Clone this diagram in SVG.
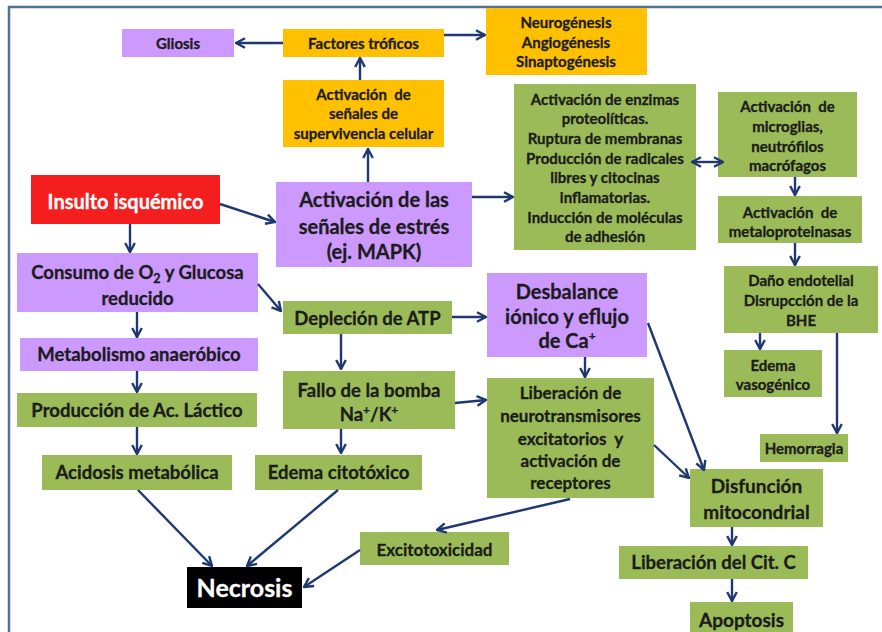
<svg xmlns="http://www.w3.org/2000/svg" width="882" height="632" viewBox="0 0 882 632">
<style>
.p{fill:#CC99FF}.o{fill:#FFC000}.g{fill:#9BBB59}.r{fill:#F41E1E}.k{fill:#000}
text{font-family:Lato,"Open Sans",sans-serif;font-weight:bold;fill:#1c1c1c;stroke:#1c1c1c;stroke-width:0.3;text-anchor:middle}
text.w{fill:#fff;stroke:#fff}
.s15{font-size:15px}.s17{font-size:17px}.s18{font-size:18.5px}.s19{font-size:19px}.s20{font-size:20px}
#connectors line{stroke:#1F3872;stroke-width:2.4;marker-end:url(#ah)}
</style>
<defs>
<marker id="ah" viewBox="0 0 10 10" refX="9" refY="5" markerWidth="12" markerHeight="12" markerUnits="userSpaceOnUse" orient="auto-start-reverse">
<path d="M1.5,1 L9,5 L1.5,9" fill="none" stroke="#1F3872" stroke-width="2"/>
</marker>
</defs>
<rect width="882" height="632" fill="#fff"/>
<path d="M9,632 V7 H882" fill="none" stroke="#52708F" stroke-width="2.5"/>

<g id="gliosis"><rect class="p" x="122" y="29" width="112" height="28"/><text class="s15" x="178" y="48.5">Gliosis</text></g>
<g id="factores"><rect class="o" x="283" y="29" width="161" height="28"/><text class="s15" x="363.5" y="48.5">Factores tróficos</text></g>
<g id="neurogenesis"><rect class="o" x="486" y="8" width="161" height="67"/><text class="s15"><tspan x="566" y="27.5">Neurogénesis</tspan><tspan x="566" y="47.5">Angiogénesis</tspan><tspan x="566" y="66.5">Sinaptogénesis</tspan></text></g>
<g id="supervivencia"><rect class="o" x="283" y="80" width="161" height="67"/><text class="s15" xml:space="preserve"><tspan x="363.5" y="99.5">Activación  de</tspan><tspan x="363.5" y="118.5">señales de</tspan><tspan x="363.5" y="138.5">supervivencia celular</tspan></text></g>
<g id="enzimas"><rect class="g" x="514" y="84" width="182" height="166"/><text class="s15"><tspan x="605" y="104.5">Activación de enzimas</tspan><tspan x="605" y="124">proteolíticas.</tspan><tspan x="605" y="143.5">Ruptura de membranas</tspan><tspan x="605" y="163.5">Producción de radicales</tspan><tspan x="605" y="182.5">libres y citocinas</tspan><tspan x="605" y="202.5">inflamatorias.</tspan><tspan x="605" y="222.5">Inducción de moléculas</tspan><tspan x="605" y="241.5">de adhesión</tspan></text></g>
<g id="microglias"><rect class="g" x="718" y="92" width="139" height="85"/><text class="s15" xml:space="preserve"><tspan x="787.5" y="111.5">Activación  de</tspan><tspan x="787.5" y="131.5">microglias,</tspan><tspan x="787.5" y="151.5">neutrófilos</tspan><tspan x="787.5" y="170.5">macrófagos</tspan></text></g>
<g id="metaloproteinasas"><rect class="g" x="718" y="196" width="144" height="47"/><text class="s15" xml:space="preserve"><tspan x="790" y="217.5">Activación  de</tspan><tspan x="790" y="236.5">metaloproteinasas</tspan></text></g>
<g id="dano"><rect class="g" x="724" y="266" width="154" height="67"/><text class="s15"><tspan x="801" y="285.5">Daño endotelial</tspan><tspan x="801" y="305.5">Disrupcción de la</tspan><tspan x="801" y="325.5">BHE</tspan></text></g>
<g id="edemavaso"><rect class="g" x="724" y="350" width="98" height="47"/><text class="s15"><tspan x="773" y="370.5">Edema</tspan><tspan x="773" y="389.5">vasogénico</tspan></text></g>
<g id="hemorragia"><rect class="g" x="760" y="434" width="88" height="28"/><text class="s15" x="804" y="453.5">Hemorragia</text></g>
<g id="insulto"><rect class="r" x="31" y="175" width="189" height="49"/><text class="s20 w" x="125.5" y="209">Insulto isquémico</text></g>
<g id="estres"><rect class="p" x="276" y="182" width="196" height="85"/><text class="s20"><tspan x="374" y="207">Activación de las</tspan><tspan x="374" y="234">señales de estrés</tspan><tspan x="374" y="259">(ej. MAPK)</tspan></text></g>
<g id="consumo"><rect class="p" x="17" y="253" width="241" height="59"/><text class="s18"><tspan x="137.5" y="278.5">Consumo de O<tspan font-size="12.5" dy="4">2</tspan><tspan dy="-4"> y Glucosa</tspan></tspan><tspan x="137.5" y="304.5">reducido</tspan></text></g>
<g id="depletion"><rect class="g" x="283" y="301" width="169" height="33"/><text class="s18" x="367.5" y="324.5">Depleción de ATP</text></g>
<g id="desbalance"><rect class="p" x="487" y="273" width="160" height="84"/><text class="s20"><tspan x="567" y="299">Desbalance</tspan><tspan x="567" y="324">iónico y eflujo</tspan><tspan x="567" y="348">de Ca<tspan font-size="12" dy="-8">+</tspan></tspan></text></g>
<g id="metabolismo"><rect class="p" x="20" y="338" width="238" height="33"/><text class="s18" x="139" y="361">Metabolismo anaeróbico</text></g>
<g id="lactico"><rect class="g" x="17" y="393" width="240" height="34"/><text class="s18" x="137" y="416.5">Producción de Ac. Láctico</text></g>
<g id="acidosis"><rect class="g" x="42" y="455" width="190" height="35"/><text class="s18" x="137" y="479">Acidosis metabólica</text></g>
<g id="fallo"><rect class="g" x="283" y="371" width="172" height="58"/><text class="s18"><tspan x="369" y="396.5">Fallo de la bomba</tspan><tspan x="369" y="420.5">Na<tspan font-size="12" dy="-7">+</tspan><tspan dy="7">/K</tspan><tspan font-size="12" dy="-7">+</tspan></tspan></text></g>
<g id="edemacito"><rect class="g" x="255" y="455" width="167" height="35"/><text class="s18" x="338.5" y="479">Edema citotóxico</text></g>
<g id="liberacion"><rect class="g" x="487" y="378" width="167" height="120"/><text class="s17" xml:space="preserve"><tspan x="570.5" y="399">Liberación de</tspan><tspan x="570.5" y="422">neurotransmisores</tspan><tspan x="570.5" y="445">excitatorios  y</tspan><tspan x="570.5" y="467">activación de</tspan><tspan x="570.5" y="489">receptores</tspan></text></g>
<g id="disfuncion"><rect class="g" x="690" y="469" width="133" height="58"/><text class="s19"><tspan x="756.5" y="493">Disfunción</tspan><tspan x="756.5" y="519">mitocondrial</tspan></text></g>
<g id="citc"><rect class="g" x="619" y="546" width="189" height="33"/><text class="s18" x="713.5" y="569">Liberación del Cit. C</text></g>
<g id="apoptosis"><rect class="g" x="690" y="602" width="103" height="32"/><text class="s19" x="741.5" y="627">Apoptosis</text></g>
<g id="excito"><rect class="g" x="360" y="532" width="149" height="33"/><text class="s17" x="434.5" y="556">Excitotoxicidad</text></g>
<g id="necrosis"><rect class="k" x="187" y="567" width="115" height="41"/><text class="w" font-size="25" x="244.5" y="597">Necrosis</text></g>

<g id="connectors">
<line x1="283" y1="43" x2="236" y2="43"/>
<line x1="444" y1="35" x2="485" y2="35"/>
<line x1="360" y1="80" x2="360" y2="58"/>
<line x1="368" y1="182" x2="368" y2="149"/>
<line x1="472" y1="197" x2="513" y2="197"/>
<line x1="692" y1="162" x2="723" y2="162" marker-start="url(#ah)"/>
<line x1="795" y1="177" x2="795" y2="195"/>
<line x1="795" y1="243" x2="795" y2="265"/>
<line x1="760" y1="333" x2="760" y2="349"/>
<line x1="837" y1="333" x2="837" y2="433"/>
<line x1="220" y1="204" x2="275" y2="222"/>
<line x1="130" y1="224" x2="130" y2="252"/>
<line x1="258" y1="284" x2="281" y2="311"/>
<line x1="137" y1="312" x2="137" y2="337"/>
<line x1="137" y1="371" x2="137" y2="392"/>
<line x1="137" y1="427" x2="137" y2="454"/>
<line x1="452" y1="317" x2="486" y2="317"/>
<line x1="341" y1="334" x2="341" y2="369"/>
<line x1="341" y1="429" x2="341" y2="453"/>
<line x1="455" y1="403" x2="486" y2="400"/>
<line x1="585" y1="357" x2="585" y2="377"/>
<line x1="648" y1="323" x2="704" y2="470"/>
<line x1="654" y1="445" x2="689" y2="478"/>
<line x1="732" y1="527" x2="732" y2="545"/>
<line x1="732" y1="579" x2="732" y2="601"/>
<line x1="138" y1="490" x2="212" y2="566"/>
<line x1="338" y1="490" x2="247" y2="566"/>
<line x1="360" y1="550" x2="304" y2="587"/>
<line x1="570" y1="499" x2="437" y2="530"/>
</g>
</svg>
